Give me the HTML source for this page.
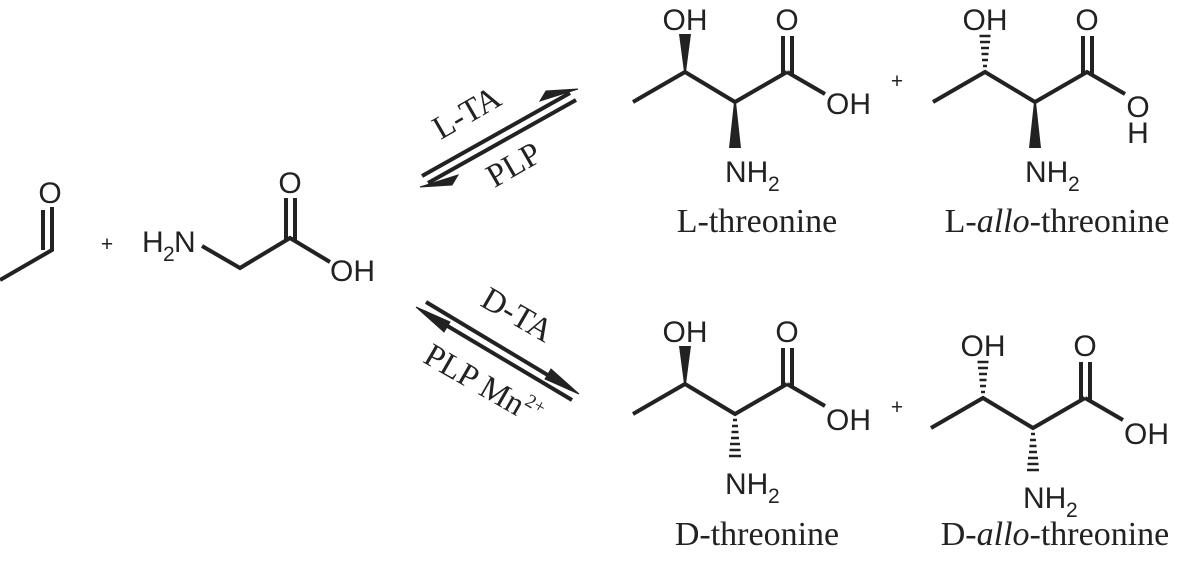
<!DOCTYPE html>
<html><head><meta charset="utf-8"><style>
html,body{margin:0;padding:0;background:#fff;}
svg{display:block}
.a{font-family:"Liberation Sans",sans-serif;font-size:30px;fill:#222}
.s{font-family:"Liberation Sans",sans-serif;font-size:21px;fill:#222}
.n{font-family:"Liberation Serif",serif;font-size:34px;fill:#222}
.r{font-family:"Liberation Serif",serif;font-size:33px;fill:#222}
</style></head><body>
<svg width="1185" height="573" viewBox="0 0 1185 573" xmlns="http://www.w3.org/2000/svg">
<defs>
<g id="back" stroke="#222" stroke-width="4" fill="none" stroke-linecap="butt">
  <polyline points="13,100 65,70 115,100 167,70"/>
  <line x1="167" y1="70" x2="205" y2="92"/>
  <line x1="163" y1="72" x2="163" y2="34"/>
  <line x1="172" y1="72" x2="172" y2="34"/>
</g>
<polygon id="wu" points="-1,0 1,0 6,-38 -6,-38" fill="#222"/>
<polygon id="wd" points="-1,0 1,0 6,46 -6,46" fill="#222"/>
<g id="hu" stroke="#222" stroke-width="2.5">
  <line x1="-2" y1="-6" x2="2" y2="-6"/><line x1="-3" y1="-12" x2="3" y2="-12"/><line x1="-3.5" y1="-18" x2="3.5" y2="-18"/><line x1="-4" y1="-24" x2="4" y2="-24"/><line x1="-5" y1="-30" x2="5" y2="-30"/><line x1="-5.5" y1="-36" x2="5.5" y2="-36"/>
</g>
<g id="hd" stroke="#222" stroke-width="2.5">
  <line x1="-2" y1="6" x2="2" y2="6"/><line x1="-3" y1="12" x2="3" y2="12"/><line x1="-3.5" y1="18" x2="3.5" y2="18"/><line x1="-4" y1="24" x2="4" y2="24"/><line x1="-5" y1="30" x2="5" y2="30"/><line x1="-5.5" y1="36" x2="5.5" y2="36"/><line x1="-6" y1="42" x2="6" y2="42"/>
</g>
</defs>

<!-- acetaldehyde -->
<g stroke="#222" stroke-width="4" fill="none">
  <polyline points="0,280 52,250 52,207"/>
  <line x1="43" y1="250" x2="43" y2="210"/>
</g>
<text class="a" x="50" y="203" text-anchor="middle">O</text>
<text class="s" x="107" y="251" text-anchor="middle">+</text>
<!-- glycine -->
<text class="a" x="142" y="252">H</text><text class="s" x="163" y="261">2</text><text class="a" x="174" y="252">N</text>
<g stroke="#222" stroke-width="4" fill="none">
  <polyline points="202,246 240,268 290,238 330,262"/>
  <line x1="286" y1="240" x2="286" y2="198"/>
  <line x1="295" y1="240" x2="295" y2="198"/>
</g>
<text class="a" x="290" y="193" text-anchor="middle">O</text>
<text class="a" x="330" y="281">OH</text>

<!-- arrows -->
<g stroke="#222" stroke-width="4" fill="#222">
  <line x1="422" y1="176" x2="570" y2="93"/>
  <polygon points="578,89 540,101 546,91" stroke-width="1"/>
  <line x1="576" y1="100" x2="428" y2="183"/>
  <polygon points="420,187 458,175 452,185" stroke-width="1"/>
  <line x1="426" y1="302" x2="571" y2="389"/>
  <polygon points="579,394 551,369 545,379" stroke-width="1"/>
  <line x1="572" y1="400" x2="424" y2="312"/>
  <polygon points="416,307 444,332 450,322" stroke-width="1"/>
</g>
<text class="r" transform="translate(472,122) rotate(-30)" text-anchor="middle">L-TA</text>
<text class="r" transform="translate(519,174) rotate(-30)" text-anchor="middle">PLP</text>
<text class="r" transform="translate(512,324) rotate(30)" text-anchor="middle">D-TA</text>
<text class="r" transform="translate(478,394) rotate(30)" text-anchor="middle">PLP Mn<tspan font-size="19" dy="-14">2+</tspan></text>

<!-- L-threonine -->
<g transform="translate(620,2)">
  <use href="#back"/>
  <use href="#wu" x="65" y="70"/>
  <use href="#wd" x="115" y="100"/>
  <text class="a" x="65" y="28" text-anchor="middle">OH</text>
  <text class="a" x="167" y="28" text-anchor="middle">O</text>
  <text class="a" x="206" y="112">OH</text>
  <text class="a" x="105" y="180">NH</text><text class="s" x="148" y="189">2</text>
</g>
<text class="s" x="897" y="88" text-anchor="middle">+</text>
<!-- L-allo -->
<g transform="translate(920,2)">
  <polyline points="13,100 65,70 115,100 167,70 205,92" stroke="#222" stroke-width="4" fill="none"/>
  <line x1="163" y1="72" x2="163" y2="34" stroke="#222" stroke-width="4"/>
  <line x1="172" y1="72" x2="172" y2="34" stroke="#222" stroke-width="4"/>
  <use href="#hu" x="65" y="70"/>
  <use href="#wd" x="115" y="100"/>
  <text class="a" x="65" y="28" text-anchor="middle">OH</text>
  <text class="a" x="167" y="28" text-anchor="middle">O</text>
  <text class="a" x="218" y="115" text-anchor="middle">O</text>
  <text class="a" x="218" y="141" text-anchor="middle">H</text>
  <text class="a" x="105" y="180">NH</text><text class="s" x="148" y="189">2</text>
</g>
<!-- D-threonine -->
<g transform="translate(620,314)">
  <use href="#back"/>
  <use href="#wu" x="65" y="70"/>
  <use href="#hd" x="115" y="100"/>
  <text class="a" x="65" y="28" text-anchor="middle">OH</text>
  <text class="a" x="167" y="28" text-anchor="middle">O</text>
  <text class="a" x="206" y="116">OH</text>
  <text class="a" x="105" y="180">NH</text><text class="s" x="148" y="189">2</text>
</g>
<text class="s" x="897" y="414" text-anchor="middle">+</text>
<!-- D-allo -->
<g transform="translate(918,328)">
  <use href="#back"/>
  <use href="#hu" x="65" y="70"/>
  <use href="#hd" x="115" y="100"/>
  <text class="a" x="65" y="28" text-anchor="middle">OH</text>
  <text class="a" x="167" y="28" text-anchor="middle">O</text>
  <text class="a" x="206" y="116">OH</text>
  <text class="a" x="105" y="180">NH</text><text class="s" x="148" y="189">2</text>
</g>

<text class="n" x="757" y="232" text-anchor="middle">L-threonine</text>
<text class="n" x="1057" y="232" text-anchor="middle">L-<tspan font-style="italic">allo</tspan>-threonine</text>
<text class="n" x="757" y="545" text-anchor="middle">D-threonine</text>
<text class="n" x="1055" y="545" text-anchor="middle">D-<tspan font-style="italic">allo</tspan>-threonine</text>
</svg>
</body></html>
